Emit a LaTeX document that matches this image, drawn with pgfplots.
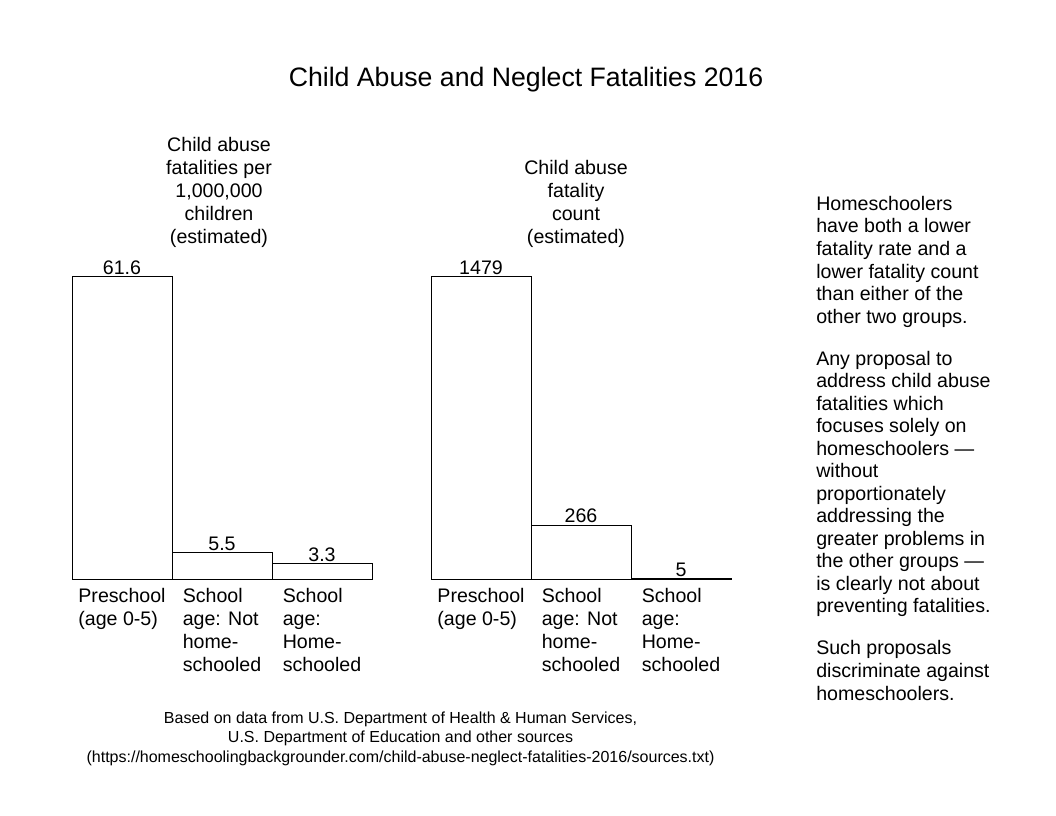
\documentclass[border=0pt]{standalone}
\usepackage{fontspec}
\setmainfont{Liberation Sans}
\usepackage{pgfplots}
\pgfplotsset{compat=1.18}
\newcommand\bodyfont{\fontsize{14.7}{17.25}\selectfont}
\pgfplotsset{
  fatal/.style={
    scale only axis, width=225pt, height=227.25pt,
    anchor=south west,
    ybar, bar width=75pt,
    xmin=-0.5, xmax=2.5, ymin=0,
    enlargelimits=false,
    axis line style={draw=none}, major tick length=0pt,
    ytick=\empty, xtick={0,1,2},
    xticklabels={{Preschool\\(age 0-5)},{School\\age: Not\\home-\\schooled},{School\\age:\\Home-\\schooled}},
    xticklabel style={align=left, anchor=north, inner sep=0pt, yshift=-6pt, font=\bodyfont},
    nodes near coords,
    nodes near coords style={font=\bodyfont, inner sep=1.5pt},
    /pgf/number format/1000 sep={},
    /pgf/number format/assume math mode=true,
    clip=false,
  },
  barfill/.style={fill=white, draw=black, line width=0.75pt},
}
\begin{document}
\begin{tikzpicture}
\path (0,0) rectangle (792pt,612pt);

\node[font=\fontsize{20}{24}\selectfont] at (394.5pt,552pt) {Child Abuse and Neglect Fatalities 2016};

% rate per million children
\begin{axis}[fatal, at={(54pt,177pt)}, ymax=61.6]
\addplot[barfill] coordinates {(0,61.6) (1,5.5) (2,3.3)};
\end{axis}
\node[align=center, anchor=south, inner sep=0pt, font=\bodyfont] at (164.25pt,426pt)
  {Child abuse\\fatalities per\\1,000,000\\children\\(estimated)};

% counts
\begin{axis}[fatal, at={(323.25pt,177pt)}, ymax=1479]
\addplot[barfill] coordinates {(0,1479) (1,266) (2,5)};
\end{axis}
\node[align=center, anchor=south, inner sep=0pt, font=\bodyfont] at (432pt,426pt)
  {Child abuse\\fatality\\count\\(estimated)};

\node[align=left, anchor=north west, inner sep=0pt, font=\fontsize{14.7}{16.9}\selectfont] at (612pt,465pt)
  {Homeschoolers\\have both a lower\\fatality rate and a\\lower fatality count\\than either of the\\other two groups.\\[14.6pt]
   Any proposal to\\address child abuse\\fatalities which\\focuses solely on\\homeschoolers —\\without\\proportionately\\addressing the\\greater problems in\\the other groups —\\is clearly not about\\preventing fatalities.\\[14.6pt]
   Such proposals\\discriminate against\\homeschoolers.};

\node[align=center, anchor=north, inner sep=0pt, font=\fontsize{12}{14.6}\selectfont] at (300.4pt,78.5pt)
  {Based on data from U.S. Department of Health \& Human Services,\\U.S. Department of Education and other sources\\(https://homeschoolingbackgrounder.com/child-abuse-neglect-fatalities-2016/sources.txt)};
\end{tikzpicture}
\end{document}
